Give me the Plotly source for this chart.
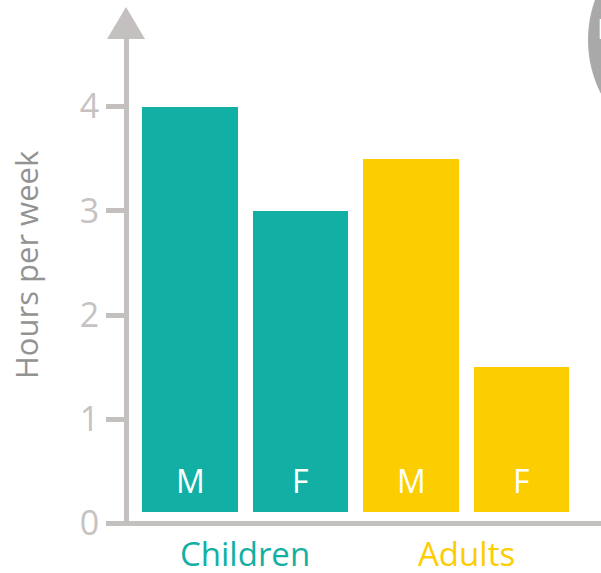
import math
import plotly.graph_objects as go

# ---- data ----
groups = ["Children", "Children", "Adults", "Adults"]
sexes = ["M", "F", "M", "F"]
hours = [4.0, 3.0, 3.5, 1.5]
group_labels = ["Children", "Adults"]
y_ticks = [0, 1, 2, 3, 4]

TEAL = "#12b0a4"
YELLOW = "#fccd00"
AXIS = "#c4c0c0"
TICKTXT = "#c6c2c2"
CIRCLE = "#a9a9a9"
group_color = {"Children": TEAL, "Adults": YELLOW}

W, H = 601, 573
L, R, T, B = 129, 0, 38, 47
PW, PH = W - L - R, H - T - B
BASE = 0.11  # bars float slightly above the axis

def px(x):
    return (x - L) / PW

def py(y):
    return (H - B - y) / PH

xs = list(range(len(hours)))
fig = go.Figure()
fig.add_trace(go.Bar(
    x=xs, y=[h - BASE for h in hours], base=BASE,
    width=0.86,
    marker=dict(color=[group_color[g] for g in groups], line=dict(width=0)),
    hoverinfo="skip",
))

annotations = []
for i, s in enumerate(sexes):
    annotations.append(dict(x=i, y=BASE, xref="x", yref="y", text=s, showarrow=False,
                            yanchor="bottom", yshift=8,
                            font=dict(family="Open Sans", size=32, color="white")))
for j, g in enumerate(group_labels):
    annotations.append(dict(x=2 * j + 0.5, y=py(553), xref="x", yref="paper", text=g,
                            showarrow=False, yanchor="middle", xanchor="center",
                            font=dict(family="Open Sans", size=33, color=group_color[g])))
annotations.append(dict(x=px(26), y=py(265), xref="paper", yref="paper",
                        text="Hours per week", textangle=-90, showarrow=False,
                        xanchor="center", yanchor="middle",
                        font=dict(family="Open Sans", size=31, color="#939393")))
annotations.append(dict(x=px(595), y=py(28), xref="paper", yref="paper", text="F",
                        showarrow=False, xanchor="left", yanchor="middle",
                        font=dict(family="Open Sans", size=28, color="white")))

# decorative circle (top right), as a polygon path in paper coords
cx, cy, r = 706, 40, 118
pts = [(cx + r * math.cos(2 * math.pi * k / 180), cy + r * math.sin(2 * math.pi * k / 180))
       for k in range(180)]
circle_path = "M " + " L ".join(f"{px(x):.5f},{py(y):.5f}" for x, y in pts) + " Z"

shapes = [
    # arrow head on y axis
    dict(type="path", xref="paper", yref="paper",
         path=f"M {px(107)},{py(39)} L {px(145)},{py(39)} L {px(126)},{py(7)} Z",
         fillcolor=AXIS, line=dict(width=0), layer="above"),
    dict(type="path", xref="paper", yref="paper", path=circle_path,
         fillcolor=CIRCLE, line=dict(width=0), layer="above"),
]

fig.update_layout(
    width=W, height=H,
    margin=dict(l=L, r=R, t=T, b=B, pad=0),
    paper_bgcolor="white", plot_bgcolor="white",
    showlegend=False,
    bargap=0,
    annotations=annotations,
    shapes=shapes,
    xaxis=dict(range=[-0.552, -0.552 + PW / 110.5], showgrid=False, zeroline=False,
               showticklabels=False, ticks="", showline=False, fixedrange=True),
    yaxis=dict(range=[-0.024, -0.024 + PH / 104.25], tickvals=y_ticks,
               showgrid=False, zeroline=True, zerolinecolor=AXIS, zerolinewidth=5,
               showline=True, linecolor=AXIS, linewidth=5,
               ticks="outside", ticklen=18, tickwidth=5, tickcolor=AXIS,
               tickfont=dict(family="Open Sans", size=34, color=TICKTXT),
               fixedrange=True),
)

fig.write_html("out.html", config={"displayModeBar": False})
